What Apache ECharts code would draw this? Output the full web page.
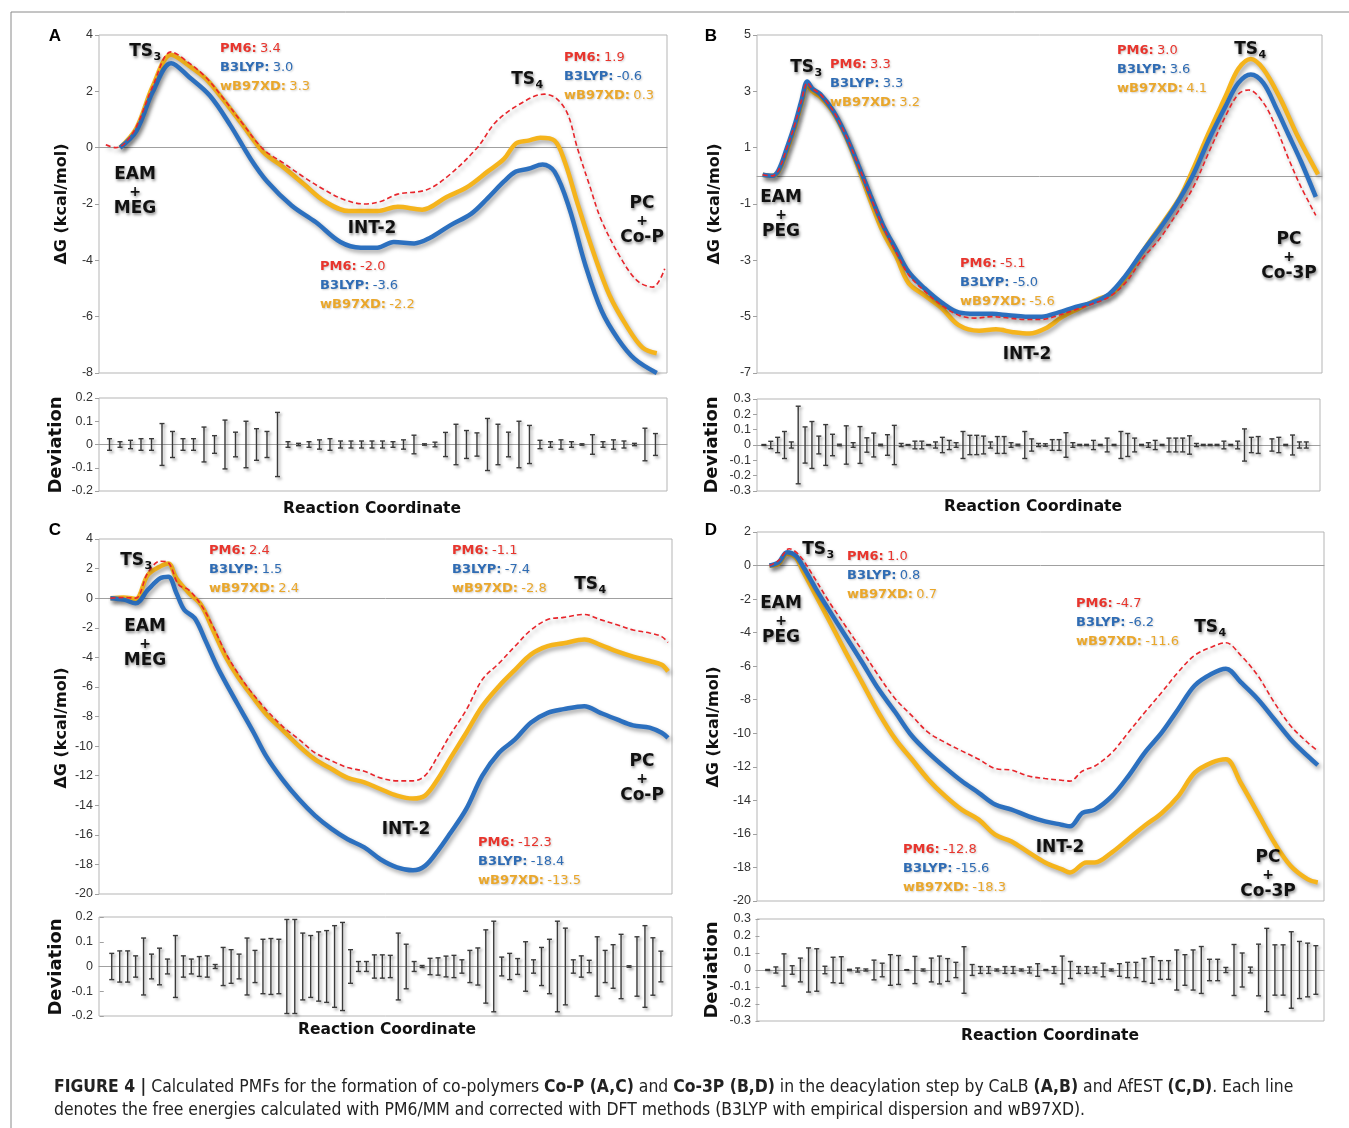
<!DOCTYPE html>
<html><head><meta charset="utf-8">
<script src="https://cdn.jsdelivr.net/npm/echarts@6/dist/echarts.min.js"></script>
<style>html,body{margin:0;padding:0;background:#fff}#c{width:1349px;height:1128px}</style>
</head><body><div id="c"></div>
<script>
// ---------------- DATA (x = reaction coordinate, % of path; y = ΔG kcal/mol) ----------------
const aRed = [[1.2,0.1],[3.0,0.0],[4.5,0.15],[6.6,0.75],[9.5,2.2],[12.7,3.4],[15.9,3.0],[18.8,2.5],[21.7,1.8],[25.3,0.85],[28.9,-0.05],[32.5,-0.55],[36.1,-1.05],[39.7,-1.5],[43.2,-1.85],[46.8,-2.0],[49.7,-1.9],[52.6,-1.65],[57.6,-1.5],[61.2,-1.05],[66.6,0.0],[69.8,0.9],[74.1,1.55],[78.4,1.9],[80.5,1.75],[82.5,1.2],[84.2,0.0],[86.3,-1.3],[88.5,-2.6],[92.1,-4.0],[94.9,-4.75],[97.5,-4.95],[99.6,-4.3]];
const aBlue = [[3.7,0],[6.6,0.6],[9.5,2.0],[12.7,3.0],[15.9,2.5],[19.5,1.85],[23.1,0.8],[26.7,-0.4],[29.6,-1.2],[33.9,-2.05],[38.2,-2.65],[42.5,-3.35],[46.1,-3.55],[49.0,-3.55],[51.9,-3.35],[55.5,-3.4],[58.3,-3.2],[61.9,-2.75],[65.5,-2.35],[68.4,-1.8],[71.3,-1.2],[73.4,-0.85],[75.6,-0.75],[78.1,-0.6],[80.2,-0.85],[82.8,-2.15],[85.6,-4.15],[88.5,-5.8],[91.4,-6.8],[94.3,-7.5],[98.2,-8.0]];
const aYellow = [[3.7,0],[6.6,0.7],[9.5,2.2],[12.7,3.3],[15.9,2.9],[18.8,2.45],[21.7,1.75],[25.3,0.8],[28.9,-0.15],[32.5,-0.7],[36.1,-1.3],[39.7,-1.9],[44.0,-2.25],[49.0,-2.25],[52.6,-2.1],[56.9,-2.2],[61.2,-1.75],[64.8,-1.4],[68.4,-0.85],[71.3,-0.4],[73.4,0.15],[75.6,0.25],[77.7,0.35],[80.2,0.25],[82.0,-0.5],[84.2,-1.95],[87.1,-3.75],[89.9,-5.25],[92.8,-6.3],[95.7,-7.1],[98.2,-7.3]];

const bRed = [[1.0,0.04],[2.7,0],[3.8,0.2],[5.3,1.0],[6.8,1.9],[7.9,2.7],[8.9,3.3],[9.8,3.1],[11.2,2.9],[13.5,2.3],[15.7,1.45],[17.9,0.4],[20.1,-0.75],[22.3,-1.8],[24.6,-2.7],[26.8,-3.5],[29.7,-4.1],[32.7,-4.6],[35.7,-4.95],[38.6,-5.05],[41.6,-5.0],[44.5,-5.05],[47.5,-5.1],[50.4,-5.1],[53.4,-4.95],[56.4,-4.75],[59.3,-4.55],[62.3,-4.3],[65.2,-3.8],[68.2,-2.95],[71.2,-2.25],[74.1,-1.4],[77.1,-0.45],[80.0,0.85],[83.0,2.15],[85.2,2.9],[87.0,3.05],[89.6,2.6],[91.9,1.7],[94.1,0.6],[96.3,-0.4],[98.9,-1.4]];
const bBlue = [[1.0,0.04],[2.7,0],[3.8,0.2],[5.3,1.0],[6.8,1.9],[7.9,2.7],[8.9,3.35],[9.8,3.1],[11.2,2.9],[13.5,2.3],[15.7,1.45],[17.9,0.4],[20.1,-0.7],[22.3,-1.75],[24.6,-2.6],[26.8,-3.4],[29.7,-4.0],[32.7,-4.5],[35.7,-4.85],[38.6,-4.9],[41.6,-4.9],[44.5,-4.95],[47.5,-5.0],[50.4,-5.0],[53.4,-4.85],[56.4,-4.65],[59.3,-4.5],[62.3,-4.2],[65.2,-3.55],[68.2,-2.7],[71.2,-1.9],[74.1,-1.05],[77.1,0.0],[80.0,1.3],[83.0,2.5],[85.2,3.3],[87.4,3.6],[89.6,3.3],[91.9,2.4],[94.1,1.45],[96.3,0.5],[98.9,-0.75]];
const bYellow = [[1.0,0.04],[2.7,0],[3.8,0.15],[5.3,0.9],[6.8,1.8],[7.9,2.6],[8.9,3.2],[9.8,3.0],[11.2,2.8],[13.5,2.25],[15.7,1.4],[17.9,0.3],[20.1,-0.9],[22.3,-2.0],[24.6,-2.85],[26.8,-3.8],[29.7,-4.25],[32.7,-4.7],[35.7,-5.3],[39.3,-5.5],[42.3,-5.45],[45.3,-5.55],[48.2,-5.6],[51.2,-5.4],[54.1,-5.0],[57.1,-4.7],[60.1,-4.4],[63.0,-4.15],[66.0,-3.4],[68.9,-2.5],[71.9,-1.65],[74.9,-0.75],[77.1,0.2],[80.0,1.55],[83.0,2.85],[85.2,3.8],[87.4,4.15],[89.6,3.8],[92.6,2.75],[95.6,1.45],[99.3,0.05]];

const cRed = [[2.0,0],[4.3,0.05],[6.4,0.0],[8.5,1.7],[10.7,2.5],[12.1,2.4],[13.9,0.9],[15.7,0.55],[17.8,-0.45],[19.9,-1.9],[22.1,-3.7],[24.2,-5.05],[26.3,-6.2],[29.2,-7.55],[32.0,-8.65],[34.9,-9.55],[37.7,-10.45],[40.6,-11.0],[43.4,-11.45],[46.3,-11.7],[49.1,-12.15],[52.0,-12.35],[54.8,-12.35],[56.9,-12.0],[59.1,-10.7],[61.2,-9.3],[64.1,-7.55],[66.9,-5.5],[69.8,-4.4],[72.6,-3.25],[75.4,-2.15],[78.3,-1.45],[81.1,-1.3],[84.7,-1.1],[87.5,-1.45],[90.4,-1.8],[93.2,-2.15],[96.1,-2.35],[98.2,-2.6],[99.3,-3.0]];
const cBlue = [[2.0,0],[4.3,-0.1],[6.4,-0.35],[8.5,0.55],[10.7,1.35],[12.1,1.45],[13.5,0.35],[14.9,-0.8],[16.7,-1.35],[18.5,-2.8],[20.6,-4.6],[22.8,-6.2],[24.9,-7.65],[27.0,-9.1],[29.2,-10.7],[32.0,-12.25],[34.9,-13.6],[37.7,-14.7],[40.6,-15.6],[43.4,-16.3],[46.3,-16.85],[49.1,-17.65],[52.0,-18.2],[54.8,-18.4],[56.9,-18.1],[59.1,-17.1],[61.2,-15.95],[64.1,-14.25],[66.9,-12.0],[69.8,-10.45],[72.6,-9.55],[75.4,-8.4],[78.3,-7.75],[81.1,-7.5],[84.7,-7.3],[87.5,-7.75],[90.4,-8.2],[93.2,-8.6],[96.1,-8.75],[98.2,-9.1],[99.3,-9.45]];
const cYellow = [[2.0,0],[4.3,0.05],[6.4,-0.05],[8.5,1.55],[10.7,2.15],[12.1,2.35],[13.5,1.35],[15.7,0.35],[17.8,-0.45],[19.9,-2.15],[22.1,-3.95],[24.2,-5.3],[26.3,-6.4],[29.2,-7.85],[32.0,-8.9],[34.9,-10.0],[37.7,-10.9],[40.6,-11.55],[43.4,-12.15],[46.3,-12.45],[49.1,-12.9],[52.0,-13.35],[54.8,-13.55],[56.9,-13.35],[59.1,-12.25],[61.2,-10.9],[64.1,-9.1],[66.9,-7.3],[69.8,-5.95],[72.6,-4.85],[75.4,-3.8],[78.3,-3.25],[81.1,-3.05],[84.7,-2.8],[87.5,-3.15],[90.4,-3.6],[93.2,-3.95],[96.1,-4.25],[98.2,-4.5],[99.3,-4.95]];

const dRed = [[2.2,0],[3.8,0.3],[5.7,1.0],[7.5,0.6],[9.7,-0.5],[12.6,-2.1],[15.6,-3.6],[18.5,-5.05],[21.4,-6.55],[24.4,-7.95],[27.3,-8.95],[30.2,-9.95],[33.2,-10.55],[36.1,-11.05],[39.1,-11.55],[42.0,-12.1],[44.9,-12.2],[47.9,-12.55],[50.8,-12.7],[53.7,-12.8],[55.2,-12.85],[57.4,-12.25],[59.6,-11.95],[62.6,-11.15],[65.5,-9.95],[68.4,-8.75],[71.4,-7.55],[74.3,-6.35],[77.2,-5.35],[80.2,-4.85],[82.7,-4.6],[85.3,-5.35],[88.3,-6.55],[91.2,-8.15],[94.1,-9.55],[97.1,-10.55],[98.9,-11.05]];
const dBlue = [[2.2,0],[3.8,0.2],[5.3,0.8],[6.8,0.6],[8.2,-0.1],[10.4,-1.4],[12.6,-2.6],[15.6,-4.2],[18.5,-5.75],[21.4,-7.35],[24.4,-8.75],[27.3,-10.15],[30.2,-11.15],[33.2,-12.05],[36.1,-12.85],[39.1,-13.55],[42.0,-14.25],[44.9,-14.55],[47.9,-14.95],[50.8,-15.25],[53.7,-15.45],[55.2,-15.55],[57.4,-14.75],[59.6,-14.55],[62.6,-13.75],[65.5,-12.55],[68.4,-11.15],[71.4,-9.95],[74.3,-8.55],[77.2,-7.15],[80.2,-6.45],[82.7,-6.15],[85.3,-6.95],[88.3,-7.95],[91.2,-9.15],[94.1,-10.35],[97.1,-11.35],[98.9,-11.9]];
const dYellow = [[2.2,0],[3.8,0.1],[5.3,0.7],[6.8,0.5],[8.2,-0.4],[10.4,-1.8],[12.6,-3.2],[15.6,-5.15],[18.5,-6.95],[21.4,-8.75],[24.4,-10.35],[27.3,-11.55],[30.2,-12.75],[33.2,-13.75],[36.1,-14.55],[39.1,-15.15],[42.0,-16.05],[44.9,-16.45],[47.9,-17.1],[50.8,-17.7],[53.7,-18.1],[55.2,-18.3],[58.1,-17.7],[59.6,-17.7],[62.6,-17.1],[65.5,-16.3],[68.4,-15.5],[71.4,-14.75],[74.3,-13.75],[77.2,-12.35],[80.2,-11.75],[82.7,-11.55],[85.3,-12.95],[88.3,-14.75],[91.2,-16.5],[94.1,-17.9],[97.1,-18.7],[98.9,-18.9]];

// deviation half-ranges (error bars), one per sampled window; null = no bar
const devA = [0.025,0.012,0.018,0.025,0.025,0.09,0.056,0.025,0.025,0.075,0.038,0.105,0.053,0.1,0.068,0.056,0.138,0.012,0.005,0.012,0.02,0.025,0.015,0.015,0.015,0.015,0.015,0.012,0.02,0.04,0.003,0.01,0.052,0.087,0.06,0.05,0.112,0.087,0.053,0.1,0.082,0.018,0.012,0.02,0.012,0.003,0.042,0.012,0.02,0.015,0.005,0.07,0.047];
const devB = [0.003,0.024,0.05,0.088,0.02,0.253,0.118,0.153,0.058,0.133,0.07,0.005,0.125,0.015,0.12,0.047,0.078,0.005,0.067,0.128,0.01,0.003,0.025,0.025,0.003,0.02,0.05,0.03,0.015,0.088,0.063,0.063,0.058,0.02,0.055,0.055,0.015,0.005,0.088,0.04,0.01,
  0.008,0.035,0.035,0.08,0.015,0.004,0.004,0.03,0.004,0.045,0.004,0.088,0.075,0.045,0.004,0.015,0.03,0.004,0.045,0.045,0.045,0.06,0.01,0.004,0.004,0.004,0.025,0.004,0.025,0.105,0.05,0.055,null,0.04,0.05,0.004,0.065,0.02,0.02];
const devC = [0.053,0.063,0.063,0.043,0.115,0.05,0.074,0.03,0.125,0.043,0.03,0.04,0.043,0.008,0.077,0.068,0.05,0.115,0.065,0.11,0.113,0.11,0.19,0.19,0.135,0.125,0.14,0.145,0.165,0.178,0.068,0.02,0.02,0.047,0.047,0.045,0.135,0.09,0.02,0.004,0.033,0.035,0.042,0.045,0.027,0.065,0.075,0.148,0.183,0.038,0.053,0.032,0.1,0.027,0.077,0.11,0.183,0.155,0.027,0.043,0.025,0.12,0.065,0.088,0.13,0.003,0.12,0.165,0.116,0.062];
const devD = [0.003,0.018,0.095,0.025,0.07,0.13,0.125,0.022,0.075,0.078,0.004,0.012,0.006,0.058,0.04,0.09,0.085,0.002,0.08,0.006,0.07,0.082,0.067,0.045,0.137,0.032,0.02,0.02,0.006,0.02,0.02,0.006,0.018,0.037,0.003,0.02,0.082,0.05,0.02,0.02,0.018,0.04,0.006,0.037,0.045,0.045,0.068,0.078,0.055,0.055,0.118,0.09,0.118,0.138,0.063,0.063,0.015,0.15,0.1,0.017,0.152,0.245,0.148,0.148,0.225,0.168,0.158,0.143];

// axis tick values
const ticksA = [-8,-6,-4,-2,0,2,4];
const ticksB = [-7,-5,-3,-1,1,3,5];
const ticksC = [-20,-18,-16,-14,-12,-10,-8,-6,-4,-2,0,2,4];
const ticksD = [-20,-18,-16,-14,-12,-10,-8,-6,-4,-2,0,2];
const ticksDevA = [-0.2,-0.1,0,0.1,0.2];
const ticksDevB = [-0.3,-0.2,-0.1,0,0.1,0.2,0.3];
const ticksDevC = [-0.2,-0.1,0,0.1,0.2];
const ticksDevD = [-0.3,-0.2,-0.1,0,0.1,0.2,0.3];

// energy annotations [PM6, B3LYP, wB97XD]
const eA = [['3.4','3.0','3.3'],['-2.0','-3.6','-2.2'],['1.9','-0.6','0.3']];
const eB = [['3.3','3.3','3.2'],['-5.1','-5.0','-5.6'],['3.0','3.6','4.1']];
const eC = [['2.4','1.5','2.4'],['-1.1','-7.4','-2.8'],['-12.3','-18.4','-13.5']];
const eD = [['1.0','0.8','0.7'],['-4.7','-6.2','-11.6'],['-12.8','-15.6','-18.3']];
const methods = ['PM6','B3LYP','wB97XD'];

// ---------------- STYLE / LAYOUT ----------------
const RED='#e8252b', BLUE='#2c70bf', YEL='#f5b41c';
const TCOL=['#e8352d','#2f6cb4','#eaa72b'];
const VFONT='"DejaVu Sans", Verdana, sans-serif';
const AFONT='"Liberation Sans", Arial, sans-serif';

const grids = [
 {left:99, top:35, width:568, height:338},
 {left:99, top:398, width:568, height:93},
 {left:757, top:35, width:565, height:338},
 {left:757, top:399, width:563, height:92},
 {left:99, top:539, width:573, height:355},
 {left:99, top:917, width:573, height:99},
 {left:757, top:532, width:567, height:369},
 {left:757, top:919, width:567, height:102}
].map(g => Object.assign({show:true, borderColor:'#b5b5b5', borderWidth:1, containLabel:false, outerBoundsMode:'none'}, g));

const devRange = [[0,54.1],[0,82],[-0.6,71.4],[-0.3,69]];
const mainTicks = [ticksA, ticksB, ticksC, ticksD];
const devTicks = [ticksDevA, ticksDevB, ticksDevC, ticksDevD];

const xAxes = [], yAxes = [];
for (let p=0;p<4;p++){
  const gm = p*2, gd = p*2+1;
  xAxes.push({type:'value', gridIndex:gm, min:0, max:100, axisLine:{onZero:true, lineStyle:{color:'#a0a0a0', width:1}}, axisTick:{show:false}, axisLabel:{show:false}, splitLine:{show:false}});
  xAxes.push({type:'value', gridIndex:gd, min:devRange[p][0], max:devRange[p][1], axisLine:{onZero:true, lineStyle:{color:'#a0a0a0', width:1}}, axisTick:{show:false}, axisLabel:{show:false}, splitLine:{show:false}});
  const mt = mainTicks[p], dt = devTicks[p];
  yAxes.push({type:'value', gridIndex:gm, min:mt[0], max:mt[mt.length-1], interval:mt[1]-mt[0],
    axisLine:{show:false}, axisTick:{show:true, length:4, lineStyle:{color:'#a0a0a0'}}, splitLine:{show:false},
    axisLabel:{fontFamily:AFONT, fontSize:12.5, color:'#333', margin:6}});
  yAxes.push({type:'value', gridIndex:gd, min:dt[0], max:dt[dt.length-1], interval:0.1,
    axisLine:{show:false}, axisTick:{show:true, length:4, lineStyle:{color:'#a0a0a0'}}, splitLine:{show:false},
    axisLabel:{fontFamily:AFONT, fontSize:12.5, color:'#333', margin:6, formatter:v=>String(Math.round(v*10)/10)}});
}

const shadow = {shadowColor:'rgba(0,0,0,0.35)', shadowBlur:4, shadowOffsetX:2, shadowOffsetY:3};
function lineSeries(data, idx, color, width, dashed){
  return {type:'line', xAxisIndex:idx, yAxisIndex:idx, data, smooth:0.35, showSymbol:false, symbol:'none', silent:true,
    lineStyle:Object.assign({color, width, type: dashed?[5,3]:'solid'}, shadow), z: dashed?3:2};
}
function renderErr(params, api){
  const x = api.value(0), h = api.value(1);
  const t = api.coord([x, h]), b = api.coord([x, -h]);
  const c = 2.5;
  const st = {stroke:'#3a3a3a', lineWidth:1.4, shadowColor:'rgba(0,0,0,0.35)', shadowBlur:3, shadowOffsetX:2, shadowOffsetY:2};
  return {type:'group', children:[
    {type:'line', shape:{x1:t[0],y1:t[1],x2:b[0],y2:b[1]}, style:st},
    {type:'line', shape:{x1:t[0]-c,y1:t[1],x2:t[0]+c,y2:t[1]}, style:st},
    {type:'line', shape:{x1:b[0]-c,y1:b[1],x2:b[0]+c,y2:b[1]}, style:st}
  ]};
}
function devSeries(arr, idx){
  const data = [];
  arr.forEach((h,i)=>{ if(h!=null) data.push([i+1, h]); });
  return {type:'custom', xAxisIndex:idx, yAxisIndex:idx, data, renderItem:renderErr, silent:true, clip:false};
}
const curves = [[aRed,aBlue,aYellow],[bRed,bBlue,bYellow],[cRed,cBlue,cYellow],[dRed,dBlue,dYellow]];
const devs = [devA, devB, devC, devD];
const series = [];
for (let p=0;p<4;p++){
  const [r,b,y] = curves[p];
  series.push(lineSeries(r, p*2, RED, 1.6, true));
  series.push(lineSeries(y, p*2, YEL, 4.5, false));
  series.push(lineSeries(b, p*2, BLUE, 4.5, false));
  series.push(devSeries(devs[p], p*2+1));
}

// ---------------- ANNOTATIONS ----------------
const G = [];
const tshadow = {textShadowColor:'rgba(0,0,0,0.45)', textShadowBlur:3, textShadowOffsetX:1, textShadowOffsetY:2};
function txt(x, y, text, font, fill, align, extra){
  G.push({type:'text', x, y, z:100, silent:true, style:Object.assign({text, font, fill, align:align||'center', verticalAlign:'middle'}, extra||{})});
}
function species(cx, y, lines){
  lines.forEach((s,i)=>{
    const plus = s==='+';
    txt(cx, y + i*17, s, 'bold '+(plus?14:17)+'px '+VFONT, '#111', 'center', tshadow);
  });
}
function ts(cx, y, n){
  txt(cx+8, y, 'TS', 'bold 17px '+VFONT, '#111', 'right', tshadow);
  txt(cx+8.5, y+5, n, 'bold 11px '+VFONT, '#111', 'left', tshadow);
}
function energy(x, y, vals){
  vals.forEach((v,i)=>{
    G.push({type:'text', x, y:y+i*19, z:100, silent:true, style:{
      text:'{l|'+methods[i]+':} {v|'+v+'}', verticalAlign:'middle', align:'left',
      rich:{l:{font:'bold 13px '+VFONT, fill:TCOL[i]}, v:{font:'13px '+VFONT, fill:TCOL[i]}},
      textShadowColor:'rgba(0,0,0,0.2)', textShadowBlur:2, textShadowOffsetX:1, textShadowOffsetY:1}});
  });
}
// panel letters
txt(55,36,'A','bold 17px '+AFONT,'#000','center');
txt(711,36,'B','bold 17px '+AFONT,'#000','center');
txt(55,530,'C','bold 17px '+AFONT,'#000','center');
txt(711,530,'D','bold 17px '+AFONT,'#000','center');
// axis titles
const dG = 'ΔG (kcal/mol)';
[[62,204],[715,204],[62,728],[714,727]].forEach(([x,y])=>G.push({type:'text', x, y, rotation:Math.PI/2, z:100, silent:true, style:{text:dG, font:'bold 16px '+VFONT, fill:'#111', align:'center', verticalAlign:'middle'}}));
[[56,445],[712,445],[56,967],[712,970]].forEach(([x,y])=>G.push({type:'text', x, y, rotation:Math.PI/2, z:100, silent:true, style:{text:'Deviation', font:'bold 18px '+VFONT, fill:'#111', align:'center', verticalAlign:'middle'}}));
[[372,509],[1033,507],[387,1030],[1050,1036]].forEach(([x,y])=>txt(x,y,'Reaction Coordinate','bold 15.5px '+VFONT,'#111','center'));
// panel A
ts(145,52,'3'); ts(527,80,'4');
species(135,175,['EAM','+','MEG']); species(372,229,['INT-2']); species(642,204,['PC','+','Co-P']);
energy(220,49,eA[0]); energy(320,267,eA[1]); energy(564,58,eA[2]);
// panel B
ts(806,68,'3'); ts(1250,50,'4');
species(781,198,['EAM','+','PEG']); species(1027,355,['INT-2']); species(1289,240,['PC','+','Co-3P']);
energy(830,65,eB[0]); energy(960,264,eB[1]); energy(1117,51,eB[2]);
// panel C
ts(136,561,'3'); ts(590,585,'4');
species(145,627,['EAM','+','MEG']); species(406,830,['INT-2']); species(642,762,['PC','+','Co-P']);
energy(209,551,eC[0]); energy(452,551,eC[1]); energy(478,843,eC[2]);
// panel D
ts(818,550,'3'); ts(1210,628,'4');
species(781,604,['EAM','+','PEG']); species(1060,848,['INT-2']); species(1268,858,['PC','+','Co-3P']);
energy(847,557,eD[0]); energy(1076,604,eD[1]); energy(903,850,eD[2]);
// frame
G.push({type:'line', z:100, silent:true, shape:{x1:11,y1:12,x2:1349,y2:12}, style:{stroke:'#8a8a8a', lineWidth:1}});
G.push({type:'line', z:100, silent:true, shape:{x1:11,y1:12,x2:11,y2:1128}, style:{stroke:'#8a8a8a', lineWidth:1}});
// caption
const CF = '"Liberation Sans Narrow", "DejaVu Sans Condensed", Arial, sans-serif';
G.push({type:'text', x:54, y:1087, z:100, silent:true, style:{
  text:'{b|FIGURE 4 |} Calculated PMFs for the formation of co-polymers {b|Co-P (A,C)} and {b|Co-3P (B,D)} in the deacylation step by CaLB {b|(A,B)} and AfEST {b|(C,D)}. Each line',
  font:'17.4px '+CF, fill:'#222', align:'left', verticalAlign:'middle', rich:{b:{font:'bold 17.4px '+CF, fill:'#222'}}}});
G.push({type:'text', x:54, y:1110, z:100, silent:true, style:{
  text:'denotes the free energies calculated with PM6/MM and corrected with DFT methods (B3LYP with empirical dispersion and wB97XD).',
  font:'17.4px '+CF, fill:'#222', align:'left', verticalAlign:'middle'}});

const chart = echarts.init(document.getElementById('c'), null, {renderer:'canvas', width:1349, height:1128});
chart.setOption({
  animation:false, backgroundColor:'#fff',
  grid:grids, xAxis:xAxes, yAxis:yAxes, series,
  graphic:{elements:G}
});
</script></body></html>
